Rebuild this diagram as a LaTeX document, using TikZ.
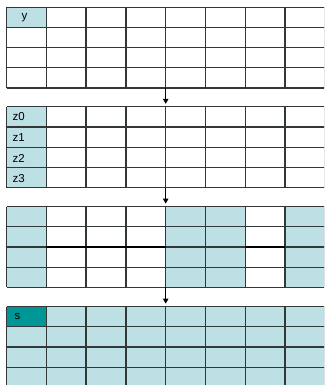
\documentclass[tikz,border=0pt]{standalone}
\usepackage{fontspec}
\setmainfont{Liberation Sans}
\usetikzlibrary{arrows.meta}
\definecolor{lb}{RGB}{188,224,228}
\definecolor{tl}{RGB}{0,150,150}
\definecolor{gl}{RGB}{50,55,55}
\begin{document}
\begin{tikzpicture}[x=1pt,y=-1pt,
  gridline/.style={draw=gl,line width=1.3pt},
  boldline/.style={draw=black,line width=2pt},
  lbl/.style={font=\fontsize{11.5}{12}\selectfont,inner sep=0pt,anchor=west},
  flow/.style={draw=black,line width=0.8pt,-{Triangle[width=5.5pt,length=5pt]}}]
\useasboundingbox (0,0) rectangle (324,385);
\clip (0,0) rectangle (324,385);
\def\cw{39.8}
\def\rh{20.2}
\def\xo{6.5}
% grid tops
\def\ta{7.2}
\def\tb{106.8}
\def\tc{206.6}
\def\td{306.6}
% fills
\fill[lb] (\xo,\ta) rectangle ++(\cw,\rh);
\fill[lb] (\xo,\tb) rectangle ++(\cw,4*\rh);
\foreach \c in {0,4,5,7}{
  \fill[lb] ({\xo+\c*\cw},\tc) rectangle ++(\cw,4*\rh);
}
\fill[lb] (\xo,\td) rectangle ++(8*\cw,4*\rh);
\fill[tl] (\xo,\td) rectangle ++(\cw,\rh);
% grid lines
\foreach \t in {\ta,\tb,\tc,\td}{
  \foreach \i in {0,...,8}{
    \draw[gridline] ({\xo+\i*\cw},\t) -- ++(0,4*\rh);
  }
  \foreach \j in {0,...,4}{
    \draw[gridline] (\xo,{\t+\j*\rh}) -- ++(8*\cw,0);
  }
}
% bold lines in third grid
\draw[boldline] ({\xo+\cw},{\tc+2*\rh}) -- ({\xo+4*\cw},{\tc+2*\rh});
\draw[boldline] ({\xo+6*\cw},{\tc+2*\rh}) -- ({\xo+7*\cw},{\tc+2*\rh});
% labels
\node[lbl,anchor=center] (ly) at ({\xo+18},{\ta+\rh/2}) {y};
\node[lbl] (lz0) at (\xo+6,{\tb+0.5*\rh}) {z0};
\node[lbl] (lz1) at (\xo+6,{\tb+1.5*\rh}) {z1};
\node[lbl] (lz2) at (\xo+6,{\tb+2.5*\rh+1}) {z2};
\node[lbl] (lz3) at (\xo+6,{\tb+3.5*\rh+1}) {z3};
\node[lbl] (ls) at (\xo+8,{\td+0.5*\rh}) {s};
% arrows
\coordinate (g1b) at ({\xo+4*\cw},{\ta+4*\rh});
\coordinate (g2t) at ({\xo+4*\cw},{\tb-3});
\coordinate (g2b) at ({\xo+4*\cw},{\tb+4*\rh});
\coordinate (g3t) at ({\xo+4*\cw},{\tc-3});
\coordinate (g3b) at ({\xo+4*\cw},{\tc+4*\rh});
\coordinate (g4t) at ({\xo+4*\cw},{\td-3});
\draw[flow] (g1b) -- (g2t);
\draw[flow] (g2b) -- (g3t);
\draw[flow] (g3b) -- (g4t);
\end{tikzpicture}
\end{document}
